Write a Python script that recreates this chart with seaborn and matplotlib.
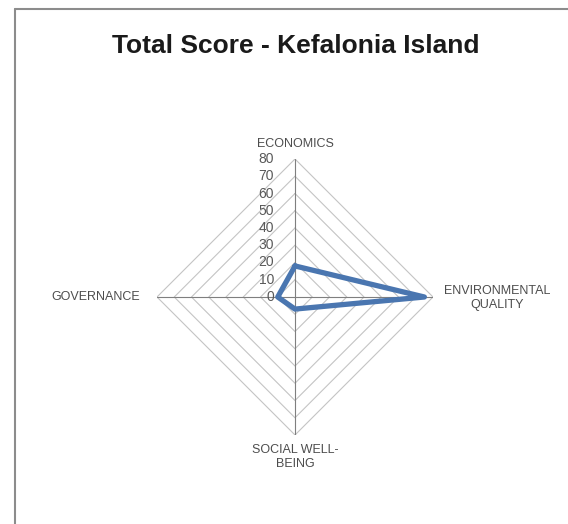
import numpy as np
import pandas as pd
import matplotlib
matplotlib.use('Agg')
import matplotlib.pyplot as plt
from matplotlib.lines import Line2D
import seaborn as sns

# data
categories = ['ECONOMICS', 'ENVIRONMENTAL\nQUALITY', 'SOCIAL WELL-\nBEING', 'GOVERNANCE']
scores = [18, 75, 7, 10]
levels = [0, 10, 20, 30, 40, 50, 60, 70, 80]

sns.set_style('white')
plt.rcParams['font.family'] = ['Liberation Sans', 'DejaVu Sans']

fig = plt.figure(figsize=(5.68, 5.24), dpi=100)
W, H = 568, 524
cx, cy, rad = 295, 297, 138
ax = fig.add_axes([(cx - rad) / W, (H - cy - rad) / H, 2 * rad / W, 2 * rad / H],
                  projection='polar')
ax.set_theta_offset(np.pi / 2)
ax.set_theta_direction(-1)

angles = np.linspace(0, 2 * np.pi, len(categories), endpoint=False)
ring = np.append(angles, angles[0])

# diamond gridlines
for lv in levels[1:]:
    ax.plot(ring, [lv] * len(ring), color='#c4c4c4', lw=0.8, zorder=1)
# spokes
for a in angles:
    ax.plot([a, a], [0, levels[-1]], color='#7f7f7f', lw=0.8, zorder=2)

df = pd.DataFrame({'theta': ring, 'score': scores + [scores[0]]})
sns.lineplot(data=df, x='theta', y='score', sort=False, estimator=None,
             ax=ax, color='#4a76b0', lw=3.8, zorder=3)

ax.set_ylim(0, levels[-1])
ax.set_xticks([])
ax.set_yticks([])
ax.grid(False)
ax.spines['polar'].set_visible(False)
ax.set_xlabel('')
ax.set_ylabel('')

# radial tick labels along the top axis
for lv in levels:
    ax.annotate(str(lv), xy=(0, lv), xytext=(-21, 0), textcoords='offset pixels',
                ha='right', va='center', fontsize=10, color='#595959')

# category labels
offsets = [((0, 15), 'center', 'center'),
           ((64, -1), 'center', 'center'),
           ((0, -22), 'center', 'center'),
           ((-17, 0), 'right', 'center')]
for a, lab, (off, ha, va) in zip(angles, categories, offsets):
    ax.annotate(lab, xy=(a, levels[-1]), xytext=off, textcoords='offset pixels',
                ha=ha, va=va, fontsize=9, color='#4d4d4d', multialignment='center',
                linespacing=1.15)

fig.text(296 / W, 1 - 46 / H, 'Total Score - Kefalonia Island', ha='center',
         va='center', fontsize=19, fontweight='bold', color='#1a1a1a')

# chart area border (left and top edges)
fig.add_artist(Line2D([15 / W, 15 / W], [0, 1 - 9 / H], transform=fig.transFigure,
                      color='#8c8c8c', lw=1.5))
fig.add_artist(Line2D([15 / W, 1], [1 - 9 / H, 1 - 9 / H], transform=fig.transFigure,
                      color='#8c8c8c', lw=1.5))

fig.savefig('out.png', dpi=100)
